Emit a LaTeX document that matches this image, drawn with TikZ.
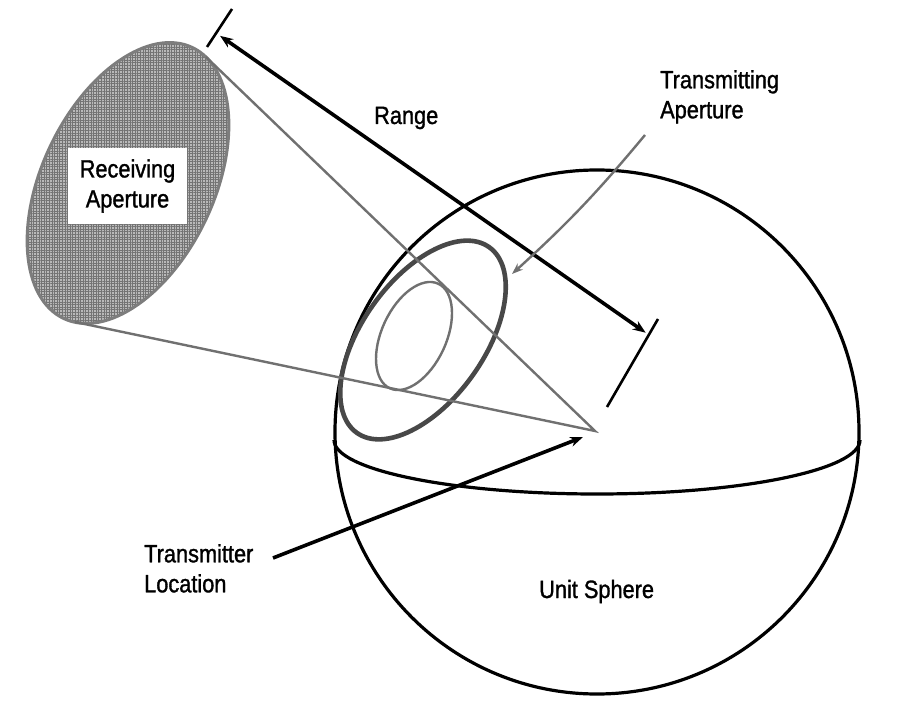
\documentclass[tikz,border=0pt]{standalone}
\usepackage{fontspec}
\setmainfont{Liberation Sans}[FakeStretch=0.87,FakeBold=1.2]
\usetikzlibrary{arrows.meta,patterns.meta}
\definecolor{conegray}{RGB}{112,112,112}
\definecolor{ringgray}{RGB}{72,72,72}
\definecolor{rimgray}{RGB}{125,125,125}
\definecolor{meshgray}{RGB}{185,185,185}
\definecolor{meshline}{RGB}{115,115,115}
\begin{document}
\begin{tikzpicture}[x=1pt,y=1pt,
  lbl/.style={font=\fontsize{25}{30}\selectfont, inner sep=0pt, align=left, text=black},
  sphereline/.style={line width=3.2pt, black},
  coneline/.style={line width=2.4pt, conegray},
  blackarrow/.style={line width=3.6pt, black},
  headtip/.tip={Stealth[length=13pt,width=10pt]},
  grayhead/.tip={Stealth[length=11pt,width=8pt]}]
\useasboundingbox (0,0) rectangle (901,705);
\fill[white] (0,0) rectangle (901,705);
% named points
\coordinate (sc) at (597,273);
\coordinate (apex) at (595,274);
\coordinate (rtan1) at (206,648);
\coordinate (rtan2) at (75,383);
\coordinate (tick1a) at (207,658);
\coordinate (tick1b) at (232,696);
\coordinate (tick2a) at (607,298);
\coordinate (tick2b) at (658,386);
\coordinate (r1) at (216,672);
\coordinate (r2) at (649,370);
\coordinate (txstart) at (273,147);
\coordinate (txend) at (583,268);
\coordinate (tastart) at (645,570);
\coordinate (taend) at (512,431);
% unit sphere and equator
\draw[sphereline] (sc) circle[radius=262];
\draw[sphereline] (334,265) arc[start angle=180, end angle=360, x radius=263, y radius=54];
% receiving aperture
\fill[meshgray, rotate around={64.6:(128,522)}] (128,522) ellipse[x radius=150, y radius=86];
\fill[pattern={Lines[angle=0,distance=2.6pt,line width=0.9pt]}, pattern color=meshline, rotate around={64.6:(128,522)}] (128,522) ellipse[x radius=150, y radius=86];
\fill[pattern={Lines[angle=90,distance=2.6pt,line width=0.9pt]}, pattern color=meshline, rotate around={64.6:(128,522)}] (128,522) ellipse[x radius=150, y radius=86];
\draw[line width=3pt, rimgray, rotate around={64.6:(128,522)}] (128,522) ellipse[x radius=150, y radius=86];
% transmitting aperture rings
\draw[line width=4.6pt, ringgray, rotate around={54.5:(423,365)}] (423,365) ellipse[x radius=114, y radius=61];
\draw[line width=2.4pt, conegray, rotate around={65.2:(414,369)}] (414,369) ellipse[x radius=57.6, y radius=32.3];
% cone
\draw[coneline] (rtan1) -- (apex) -- (rtan2);
% range
\draw[line width=2.6pt, black] (tick1a) -- (tick1b);
\draw[line width=2.6pt, black] (tick2a) -- (tick2b);
\draw[blackarrow, headtip-headtip, shorten <=5pt, shorten >=4pt] (r1) -- (r2);
% labels
\node[lbl, anchor=base west] (range) at (374,581) {Range};
\node[lbl, anchor=north west] (txap) at (660,635) {Transmitting\\Aperture};
\node[lbl, anchor=north west] (txloc) at (144,161) {Transmitter\\Location};
\node[lbl, anchor=base west] (unit) at (539,107) {Unit Sphere};
\node[lbl, fill=white, align=center, minimum width=119pt, minimum height=76pt] (rxap) at (127.5,519) {Receiving\\Aperture};
% pointers
\draw[line width=2.4pt, conegray, -grayhead] (tastart) to[bend left=4] (taend);
\draw[blackarrow, -headtip] (txstart) -- (txend);
\end{tikzpicture}
\end{document}
